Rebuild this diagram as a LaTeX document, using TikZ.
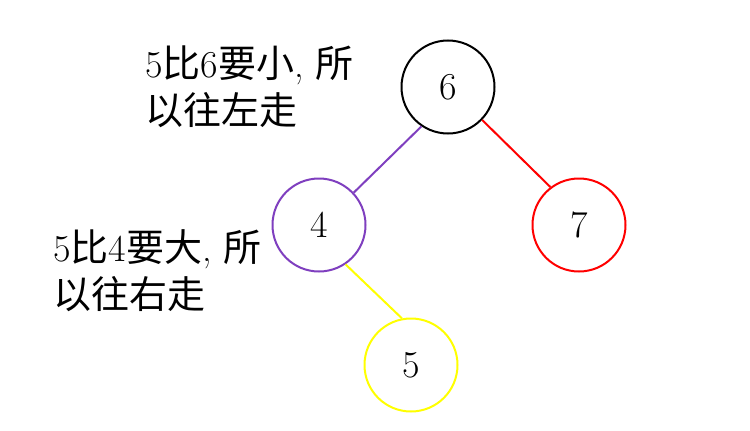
\documentclass[tikz,border=0pt]{standalone}
\usepackage{fontspec}
\newfontfamily\cjk{Noto Sans CJK SC}
\definecolor{edgepurple}{RGB}{127,63,191}
\definecolor{pureyellow}{RGB}{255,255,0}
\definecolor{purered}{RGB}{255,0,0}
\begin{document}
\begin{tikzpicture}[x=1pt,y=-1pt,
  tn/.style={circle,draw,line width=2pt,minimum size=93pt,inner sep=0pt,font=\fontsize{38}{44}\selectfont},
  lbl/.style={align=left,anchor=base west,inner sep=0pt,font=\fontsize{38}{47}\selectfont},
  edge/.style={line width=2pt}]
\useasboundingbox[fill=white] (0,0) rectangle (750,431);
\node[tn,draw=black] (n6) at (448,87) {6};
\node[tn,draw=edgepurple] (n4) at (319,225) {4};
\node[tn,draw=purered] (n7) at (579,225) {7};
\node[tn,draw=pureyellow] (n5) at (411,365) {5};
\draw[edge,edgepurple] (n6.-124) -- (n4.43);
\draw[edge,purered] (n6.-44) -- (n7.127);
\draw[edge,pureyellow] (n4.-56) -- (n5.101);
\node[lbl] (t1) at (145,124) {5{\cjk 比}6{\cjk 要小}, {\cjk 所}\\{\cjk 以往左走}};
\node[lbl] (t2) at (53,308) {5{\cjk 比}4{\cjk 要大}, {\cjk 所}\\{\cjk 以往右走}};
\end{tikzpicture}
\end{document}
